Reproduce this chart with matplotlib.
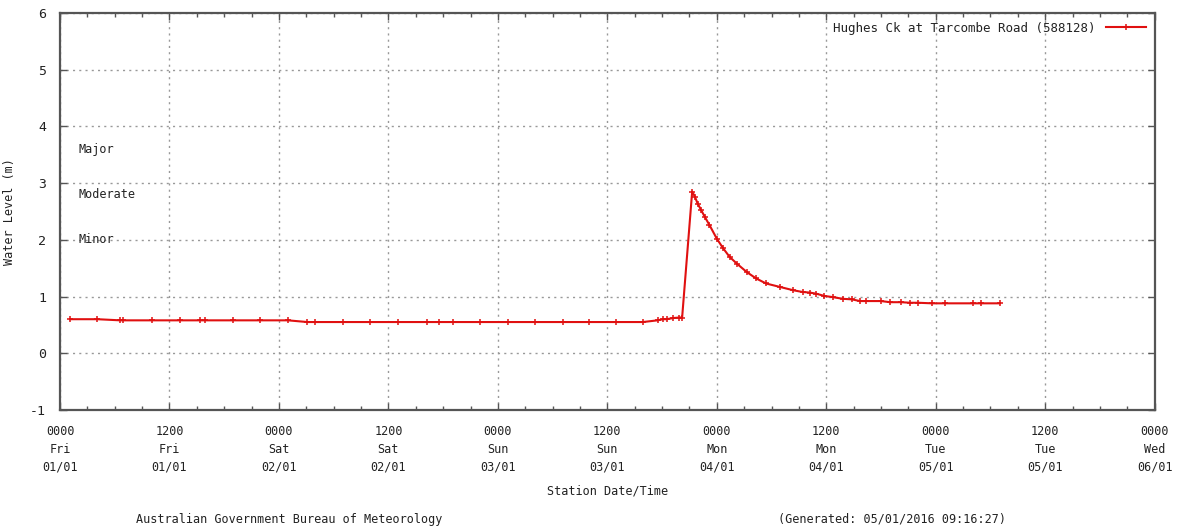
#!/usr/bin/env python3
"""Hughes Ck at Tarcombe Road water level hydrograph (gnuplot style)."""
import matplotlib
matplotlib.use('Agg')
import matplotlib.pyplot as plt
from matplotlib.ticker import MultipleLocator

# hours since 0000 Fri 01/01
hours = [1.1, 4.1, 6.6, 6.9, 10.1, 13.2, 15.3, 15.9, 19.0, 21.9, 25.0,
         27.1, 27.9, 31.0, 34.0, 37.0, 40.2, 41.5, 43.1, 46.0, 49.1, 52.1,
         55.1, 58.0, 61.0, 63.9, 65.5, 66.1, 66.5, 67.2, 67.9, 68.2,
         69.3, 69.6, 69.9, 70.3, 70.7, 71.2, 72.0, 72.7, 73.4, 74.2, 75.3,
         76.3, 77.4, 78.9, 80.4, 81.4, 82.2, 82.9, 83.8, 84.7, 85.8, 86.8,
         87.7, 88.4, 90.0, 91.0, 92.2, 93.2, 94.1, 95.6, 97.0, 100.1,
         101.0, 103.0]
levels = [0.60, 0.60, 0.58, 0.58, 0.58, 0.58, 0.58, 0.58, 0.58, 0.58, 0.58,
          0.55, 0.55, 0.55, 0.55, 0.55, 0.55, 0.55, 0.55, 0.55, 0.55, 0.55,
          0.55, 0.55, 0.55, 0.55, 0.58, 0.60, 0.60, 0.62, 0.63, 0.63,
          2.85, 2.76, 2.64, 2.52, 2.40, 2.26, 2.02, 1.85, 1.70, 1.58, 1.43,
          1.32, 1.23, 1.17, 1.11, 1.08, 1.07, 1.05, 1.01, 0.99, 0.96, 0.95,
          0.92, 0.92, 0.92, 0.90, 0.90, 0.89, 0.89, 0.88, 0.88, 0.88,
          0.88, 0.88]

tick_labels = ['0000\nFri\n01/01', '1200\nFri\n01/01', '0000\nSat\n02/01',
               '1200\nSat\n02/01', '0000\nSun\n03/01', '1200\nSun\n03/01',
               '0000\nMon\n04/01', '1200\nMon\n04/01', '0000\nTue\n05/01',
               '1200\nTue\n05/01', '0000\nWed\n06/01']

flood_names = ['Major', 'Moderate', 'Minor']
flood_levels = [3.6, 2.8, 2.0]

station = 'Hughes Ck at Tarcombe Road (588128)'

plt.rcParams['font.family'] = ['DejaVu Sans Mono']
plt.rcParams['axes.unicode_minus'] = False
txt = '#222222'
fs = 8.5

fig = plt.figure(figsize=(11.77, 5.31), dpi=100)
ax = fig.add_axes([0.051, 0.228, 0.930, 0.7475])

ax.plot(hours, levels, color='#e01010', lw=1.5, marker='+', ms=5,
        mew=1.1, label=station)

ax.set_xlim(0, 120)
ax.set_ylim(-1, 6)
ax.set_xticks(range(0, 121, 12))
ax.set_xticklabels(tick_labels, fontsize=fs, color=txt, linespacing=1.45)
ax.xaxis.set_minor_locator(MultipleLocator(3))
ax.yaxis.set_major_locator(MultipleLocator(1))
ax.tick_params(axis='y', labelsize=fs + 1, labelcolor=txt)

ax.tick_params(which='both', direction='in', top=True, right=True,
               color='#555555')
ax.tick_params(which='major', length=5, width=1)
ax.tick_params(which='minor', length=3, width=1)
ax.tick_params(axis='x', pad=11)
ax.tick_params(axis='y', pad=10)

ax.grid(True, which='major', color='#999999', linestyle=(0, (1.5, 3)),
        lw=1.0)
for s in ax.spines.values():
    s.set_color('#555555')
    s.set_linewidth(1.6)

for name, lvl in zip(flood_names, flood_levels):
    ax.text(2.0, lvl, name, fontsize=fs, color=txt, va='center', ha='left')

ax.set_ylabel('Water Level (m)', fontsize=fs, color=txt, labelpad=10)
ax.set_xlabel('Station Date/Time', fontsize=fs, color=txt, labelpad=8)

leg = ax.legend(loc='upper right', frameon=False, markerfirst=False,
                fontsize=fs + 0.5, handlelength=3.2, borderaxespad=0.3,
                handletextpad=0.8)
for t in leg.get_texts():
    t.set_color(txt)

fig.text(0.246, 0.022, 'Australian Government Bureau of Meteorology',
         fontsize=fs, color=txt, ha='center', va='center')
fig.text(0.758, 0.022, '(Generated: 05/01/2016 09:16:27)',
         fontsize=fs, color=txt, ha='center', va='center')

fig.savefig('out.png', dpi=100)
